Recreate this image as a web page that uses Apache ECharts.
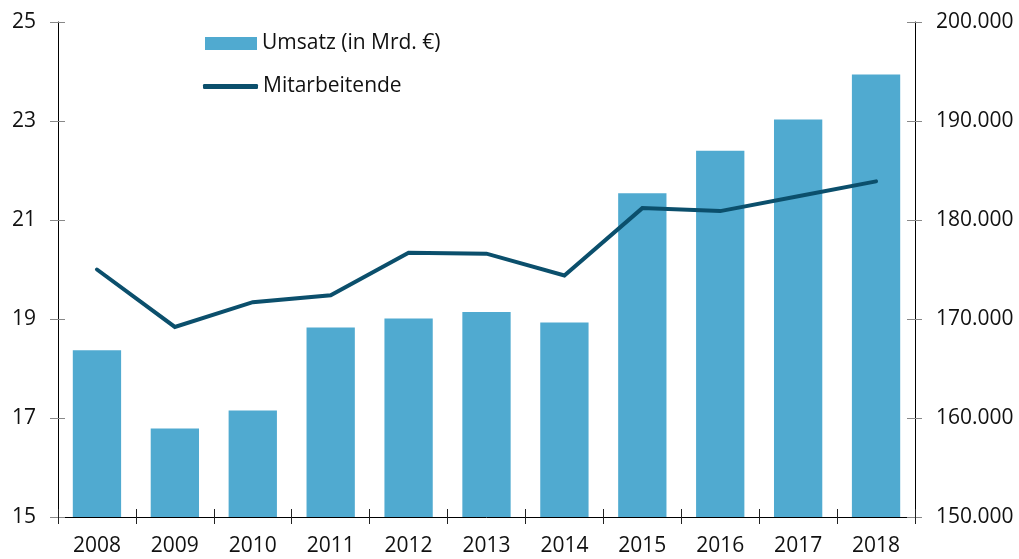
<!DOCTYPE html>
<html><head><meta charset="utf-8">
<script src="https://cdn.jsdelivr.net/npm/echarts@6/dist/echarts.min.js"></script>
<style>html,body{margin:0;padding:0;background:#fff}#c{width:1019px;height:559px}</style>
</head><body><div id="c"></div>
<script>
var years = ['2008','2009','2010','2011','2012','2013','2014','2015','2016','2017','2018'];
var umsatz = [18.37,16.79,17.15,18.83,19.01,19.14,18.93,21.54,22.40,23.03,23.94];
var mitarbeitende = [175000,169200,171700,172400,176700,176600,174400,181200,180900,182400,183900];
var leftTicks = [15,17,19,21,23,25];
var rightTicks = [150000,160000,170000,180000,190000,200000];

var FONT = 'Open Sans';
var chart = echarts.init(document.getElementById('c'), null, {renderer:'canvas'});
function fmtThousands(v){ return String(v).replace(/\B(?=(\d{3})+(?!\d))/g,'.'); }
var txt = {color:'#111', fontFamily:FONT, fontSize:21};
chart.setOption({
  animation:false,
  grid:{left:58, right:104, top:22, bottom:42, containLabel:false},
  legend:[{
    data:[{name:'Umsatz (in Mrd. €)', icon:'rect'}],
    left:205, top:33, padding:0, itemWidth:52, itemHeight:13, itemGap:5,
    textStyle:{color:'#111', fontFamily:FONT, fontSize:21}
  },{
    data:[{name:'Mitarbeitende', icon:'roundRect'}],
    left:203, top:76, padding:0, itemWidth:55, itemHeight:5,
    textStyle:{color:'#111', fontFamily:FONT, fontSize:21}
  }],
  xAxis:[{
    type:'category', data:years,
    axisLine:{lineStyle:{color:'#000', width:1}},
    axisTick:{show:true, length:7, lineStyle:{color:'#222'}},
    axisLabel:Object.assign({margin:19}, txt)
  },{
    type:'category', data:years, position:'bottom',
    axisLine:{show:false},
    axisTick:{show:true, inside:true, length:8, lineStyle:{color:'#222'}},
    axisLabel:{show:false}
  }],
  yAxis:[{
    type:'value', min:15, max:25, interval:2, position:'left',
    splitLine:{show:false},
    axisLine:{show:true, lineStyle:{color:'#000'}},
    axisTick:{show:true, length:8, lineStyle:{color:'#888'}},
    axisLabel:Object.assign({margin:22, formatter:function(v){return leftTicks.indexOf(v)>=0?String(v):'';}}, txt)
  },{
    type:'value', min:150000, max:200000, interval:10000, position:'right',
    splitLine:{show:false},
    axisLine:{show:true, lineStyle:{color:'#000'}},
    axisTick:{show:true, length:7, lineStyle:{color:'#888'}},
    axisLabel:Object.assign({margin:21, formatter:function(v){return rightTicks.indexOf(v)>=0?fmtThousands(v):'';}}, txt)
  },{
    type:'value', min:15, max:25, interval:2, position:'left',
    splitLine:{show:false}, axisLine:{show:false},
    axisTick:{show:true, inside:true, length:7, lineStyle:{color:'#888'}},
    axisLabel:{show:false}
  },{
    type:'value', min:150000, max:200000, interval:10000, position:'right',
    splitLine:{show:false}, axisLine:{show:false},
    axisTick:{show:true, inside:true, length:8, lineStyle:{color:'#888'}},
    axisLabel:{show:false}
  }],
  series:[{
    name:'Umsatz (in Mrd. €)', type:'bar', data:umsatz, yAxisIndex:0,
    barCategoryGap:'38%',
    itemStyle:{color:'#50aad0'}
  },{
    name:'Mitarbeitende', type:'line', data:mitarbeitende, yAxisIndex:1,
    symbol:'none', lineStyle:{color:'#0b4f6c', width:4, cap:'round', join:'miter'},
    itemStyle:{color:'#0b4f6c'}
  }]
});
</script></body></html>
